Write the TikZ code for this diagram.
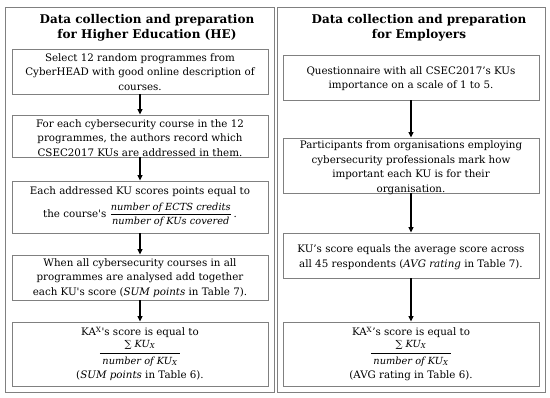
\documentclass[tikz,border=0pt]{standalone}
\usepackage{amsmath}
\usepackage{fontspec}
\setmainfont{DejaVu Serif}
\usetikzlibrary{arrows.meta}
\definecolor{bordergray}{RGB}{128,128,128}
\newcommand{\fr}[2]{$\dfrac{\mbox{\fontsize{9.8}{10}\selectfont\itshape #1}}{\mbox{\fontsize{9.8}{10}\selectfont\itshape #2}}$}
\newcommand{\sq}{\textquotesingle}
\newcommand{\kux}{KU\textsubscript{X}}
\begin{document}
\begin{tikzpicture}[x=1pt,y=-1pt,
  panel/.style={draw=bordergray, line width=0.9pt},
  box/.style={draw=bordergray, line width=0.9pt, minimum width=256pt, inner sep=0pt},
  txt/.style={align=center, font=\fontsize{10.3}{14.5}\selectfont, inner sep=0pt},
  ftxt/.style={align=center, font=\fontsize{9.8}{10}\selectfont\itshape, inner sep=0pt},
  ttl/.style={align=center, font=\fontsize{12}{15}\selectfont\bfseries, inner sep=0pt},
  arr/.style={-{Triangle[length=5.5pt,width=5pt]}, line width=1.1pt},
  fbar/.style={line width=0.8pt}
]
\useasboundingbox (0,0) rectangle (550,398);
\draw[panel] (5,7) rectangle (274,392);
\draw[panel] (277,7) rectangle (545,392);
\node[ttl] (tl) at (147,27.5) {Data collection and preparation\\for Higher Education (HE)};
\node[ttl] (tr) at (419,28) {Data collection and preparation\\for Employers};
% left column
\node[box, minimum height=45pt] (l1) at (140,71.5) {};
\node[txt] (l1t) at (140,72) {Select 12 random programmes from\\CyberHEAD with good online description of\\courses.};
\node[box, minimum height=42pt] (l2) at (140,136) {};
\node[txt] (l2t) at (140,138) {For each cybersecurity course in the 12\\programmes, the authors record which\\CSEC2017 KUs are addressed in them.};
\node[box, minimum height=52pt] (l3) at (140,207) {};
\node[txt] (l3a) at (140,192) {Each addressed KU scores points equal to};
\node[txt] (l3b) at (140,214.5) {the course\sq s \fr{number of ECTS credits}{number of KUs covered}\,.};
\node[box, minimum height=45pt] (l4) at (140,277.5) {};
\node[txt] (l4t) at (140,278) {When all cybersecurity courses in all\\programmes are analysed add together\\each KU\sq s score (\textit{SUM points} in Table 7).};
\node[box, minimum height=64pt] (l5) at (140,354) {};
\node[txt] (l5a) at (140,332.5) {KA\textsuperscript{X}\sq s score is equal to};
\node[ftxt] (l5n) at (140,344.5) {∑ \kux};
\node[ftxt, minimum width=80pt] (l5d) at (140,361.5) {number of \kux};
\draw[fbar] ([yshift=3pt]l5d.north west) -- ([yshift=3pt]l5d.north east);
\node[txt] (l5c) at (140,375.5) {(\textit{SUM points} in Table 6).};
% right column
\node[box, minimum height=45pt] (r1) at (411,77.5) {};
\node[txt] (r1t) at (411,78.5) {Questionnaire with all CSEC2017’s KUs\\importance on a scale of 1 to 5.};
\node[box, minimum height=55pt] (r2) at (411,165.5) {};
\node[txt] (r2t) at (411,167.5) {Participants from organisations employing\\cybersecurity professionals mark how\\important each KU is for their\\organisation.};
\node[box, minimum height=45pt] (r3) at (411,255.5) {};
\node[txt] (r3t) at (411,257) {KU’s score equals the average score across\\all 45 respondents (\textit{AVG rating} in Table 7).};
\node[box, minimum height=64pt] (r4) at (411,354) {};
\node[txt] (r4a) at (411,332.5) {KA\textsuperscript{X}’s score is equal to};
\node[ftxt] (r4n) at (411,344.5) {∑ \kux};
\node[ftxt, minimum width=80pt] (r4d) at (411,361.5) {number of \kux};
\draw[fbar] ([yshift=3pt]r4d.north west) -- ([yshift=3pt]r4d.north east);
\node[txt] (r4c) at (411,375.5) {(AVG rating in Table 6).};
% arrows
\draw[arr] (l1.south) -- (l2.north);
\draw[arr] (l2.south) -- (l3.north);
\draw[arr] (l3.south) -- (l4.north);
\draw[arr] (l4.south) -- (l5.north);
\draw[arr] (r1.south) -- (r2.north);
\draw[arr] (r2.south) -- (r3.north);
\draw[arr] (r3.south) -- (r4.north);
\end{tikzpicture}
\end{document}
